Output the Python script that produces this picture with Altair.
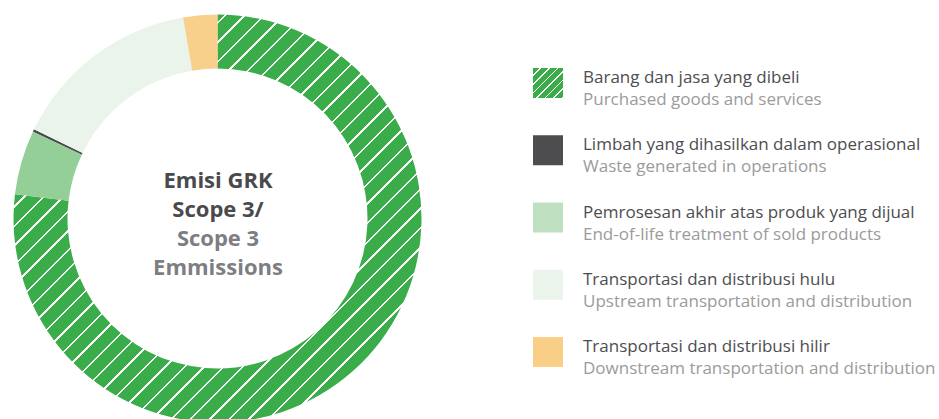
import altair as alt
import pandas as pd

# ---- data ----
legend_id = [
    "Barang dan jasa yang dibeli",
    "Limbah yang dihasilkan dalam operasional",
    "Pemrosesan akhir atas produk yang dijual",
    "Transportasi dan distribusi hulu",
    "Transportasi dan distribusi hilir",
]
legend_en = [
    "Purchased goods and services",
    "Waste generated in operations",
    "End-of-life treatment of sold products",
    "Upstream transportation and distribution",
    "Downstream transportation and distribution",
]
keys = ["purchased", "waste", "eol", "upstream", "downstream"]
shares = [76.9, 0.2, 5.1, 15.1, 2.7]          # percent of Scope 3 emissions
donut_order = [1, 3, 2, 4, 5]                   # clockwise order from 12 o'clock
donut_colors = ["#3aad4a", "#4d4d4f", "#95cf98", "#eaf4ea", "#f9d08b"]
legend_colors = ["#3aad4a", "#4d4d4f", "#bfe1c1", "#eaf4ea", "#f9cf88"]
center_lines = ["Emisi GRK", "Scope 3/", "Scope 3", "Emmissions"]
center_colors = ["#4a4a4c", "#4a4a4c", "#7e7e82", "#7e7e82"]

df = pd.DataFrame({
    "key": keys, "id": legend_id, "en": legend_en,
    "share": shares, "ord": donut_order,
})


def hatch(n, green="#3aad4a", white="#ffffff", w=0.12):
    stops = []
    for i in range(n):
        a = i / n
        b = (i + 1 - w) / n
        c = (i + 1) / n
        stops += [
            alt.GradientStop(color=green, offset=a),
            alt.GradientStop(color=green, offset=b),
            alt.GradientStop(color=white, offset=b),
            alt.GradientStop(color=white, offset=c),
        ]
    return alt.LinearGradient(gradient="linear", stops=stops, x1=0, y1=0, x2=1, y2=1)


base = alt.Chart(df)

donut = base.mark_arc(innerRadius=150, outerRadius=204, stroke=None).encode(
    x=alt.value(217.5),
    y=alt.value(218.5),
    theta=alt.Theta("share:Q", stack=True),
    order=alt.Order("ord:Q"),
    fill=alt.condition(
        alt.datum.key == "purchased",
        alt.value(hatch(42)),
        alt.Fill("key:N", scale=alt.Scale(domain=keys, range=donut_colors), legend=None),
    ),
)

yscale = alt.Scale(type="point", domain=legend_id, range=[83, 352], padding=0)

swatch = base.mark_square(size=900, opacity=1, stroke=None).encode(
    x=alt.value(548),
    y=alt.Y("id:N", scale=yscale, axis=None),
    fill=alt.condition(
        alt.datum.key == "purchased",
        alt.value(hatch(7, w=0.2)),
        alt.Fill("key:N", scale=alt.Scale(domain=keys, range=legend_colors), legend=None),
    ),
)

txt1 = base.mark_text(align="left", baseline="middle", dy=-5, font="Open Sans",
                      fontSize=17, color="#4d4d4f").encode(
    x=alt.value(583), y=alt.Y("id:N", scale=yscale, axis=None), text="id:N")
txt2 = base.mark_text(align="left", baseline="middle", dy=17, font="Open Sans",
                      fontSize=17, color="#9b9b9b").encode(
    x=alt.value(583), y=alt.Y("id:N", scale=yscale, axis=None), text="en:N")

center_layers = []
for i, (line, col) in enumerate(zip(center_lines, center_colors)):
    center_layers.append(
        alt.Chart(pd.DataFrame({"t": [line]})).mark_text(
            align="center", baseline="middle", font="Open Sans", fontWeight="bold",
            fontSize=22, color=col,
        ).encode(x=alt.value(218), y=alt.value(181 + 29 * i), text="t:N")
    )

chart = alt.layer(donut, swatch, txt1, txt2, *center_layers).resolve_scale(
    fill="independent"
).properties(
    width=939, height=440, padding=0,
    autosize=alt.AutoSizeParams(type="none"),
    background="#ffffff",
).configure_view(stroke=None)

chart.save("out.html", embed_options={"renderer": "svg", "actions": False})
